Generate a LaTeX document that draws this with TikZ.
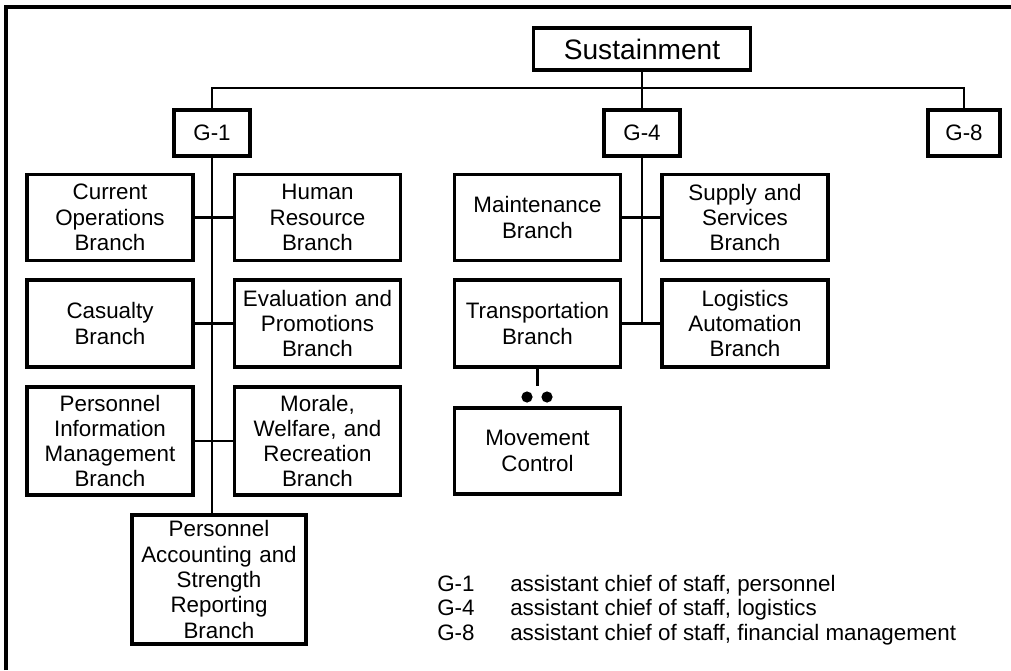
\documentclass[tikz,border=0pt]{standalone}
\usepackage{fontspec}
\setmainfont{Liberation Sans}
\usepackage{tikz}
\usetikzlibrary{positioning,calc}

\begin{document}
\begin{tikzpicture}[
  x=0.025cm, y=-0.025cm,
  box/.style={rectangle, draw=black, line width=2.4pt, inner sep=0pt,
              align=center, font=\fontsize{15.9}{18}\selectfont},
  cell/.style={box, minimum width=4.15cm, text width=3.9cm, minimum height=2.15cm},
  gbox/.style={box, minimum width=1.9cm, minimum height=1.15cm},
  link/.style={line width=2pt},
  legend/.style={inner sep=0pt, anchor=base west, font=\fontsize{15.9}{18}\selectfont}
]
  \useasboundingbox (0,0) rectangle (1011,670);
  % frame (top and left edges only)
  \draw[line width=2.4pt] (6,670) |- (1011,7);
  % Top of the chart
  \node[box, font=\fontsize{20}{24}\selectfont, minimum width=5.42cm, minimum height=1.05cm] (sust) at (642,49) {Sustainment};
  \node[gbox] (g1) at (212,133) {G-1};
  \node[gbox] (g4) at (642,133) {G-4};
  \node[gbox, minimum width=1.8cm] (g8) at (964,133) {G-8};
  \coordinate (bar) at (642,88);
  \draw[link] (sust.south) -- (bar);
  \draw[link] (g1.north) |- (bar) -| (g8.north);
  \draw[link] (bar) -- (g4.north);
  % G-1 branches
  \node[cell] (cur)  at (110,217.5) {Current\\Operations\\Branch};
  \node[cell] (hr)   at (317.5,217.5) {Human\\Resource\\Branch};
  \node[cell, minimum height=2.18cm] (cas)  at (110,323.5) {Casualty\\Branch};
  \node[cell, minimum height=2.18cm] (eval) at (317.5,323.5) {Evaluation and\\Promotions\\Branch};
  \node[cell, minimum height=2.7cm] (pim)  at (110,441) {Personnel\\Information\\Management\\Branch};
  \node[cell, minimum height=2.7cm] (mwr)  at (317.5,441) {Morale,\\Welfare, and\\Recreation\\Branch};
  \node[cell, minimum width=4.35cm, text width=4.1cm, minimum height=3.22cm] (pasr) at (219,579.5)
       {Personnel\\Accounting and\\Strength\\Reporting\\Branch};
  \draw[link] (g1.south) -- (g1.south |- pasr.north);
  \draw[link] (cur.east) -- (hr.west);
  \draw[link] (cas.east) -- (eval.west);
  \draw[link] (pim.east) -- (mwr.west);
  % G-4 branches
  \node[cell] (maint) at (537.5,217.5) {Maintenance\\Branch};
  \node[cell] (sup)   at (745,217.5) {Supply and\\Services\\Branch};
  \node[cell, minimum height=2.18cm] (trans) at (537.5,323.5) {Transportation\\Branch};
  \node[cell, minimum height=2.18cm] (logi)  at (745,323.5) {Logistics\\Automation\\Branch};
  \draw[link] (g4.south) -- (g4.south |- trans.east);
  \draw[link] (maint.east) -- (sup.west);
  \draw[link] (trans.east) -- (logi.west);
  % Movement control under transportation
  \node[cell] (move) at (537.5,451) {Movement\\Control};
  \coordinate (drop) at (537.5,386);
  \draw[link] (trans.south) -- (drop);
  \node[circle, fill=black, inner sep=0pt, minimum size=0.28cm] (dotl) at (527,397) {};
  \node[circle, fill=black, inner sep=0pt, minimum size=0.28cm] (dotr) at (547,397) {};
  % Legend
  \node[legend] (k1) at (437,591) {G-1};
  \node[legend] (k4) at (437,615) {G-4};
  \node[legend] (k8) at (437,640) {G-8};
  \node[legend] (d1) at (510,591) {assistant chief of staff, personnel};
  \node[legend] (d4) at (510,615) {assistant chief of staff, logistics};
  \node[legend] (d8) at (510,640) {assistant chief of staff, financial management};
\end{tikzpicture}
\end{document}
